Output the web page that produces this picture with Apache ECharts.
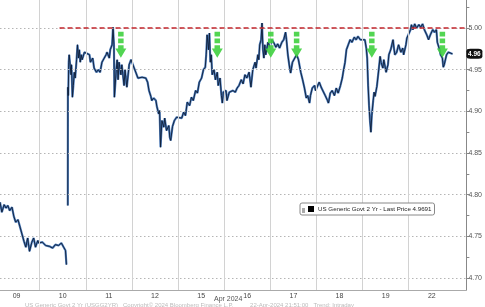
<!DOCTYPE html>
<html>
<head>
<meta charset="utf-8">
<script src="https://cdn.jsdelivr.net/npm/echarts@6/dist/echarts.min.js"></script>
<style>html,body{margin:0;padding:0;background:#fff}#c{width:485px;height:307px}</style>
</head>
<body>
<div id="c"></div>
<script>
// x positions are in trading-day units (day i spans [i, i+1]); null = break
const dayLabels = ['09','10','11','12','15','16','17','18','19','22'];
const yTickLabels = [4.70, 4.75, 4.80, 4.85, 4.90, 4.95, 5.00];
const yMinorTicks = [4.70,4.725,4.75,4.775,4.80,4.825,4.85,4.875,4.90,4.925,4.95,4.975,5.00,5.025];
const times = [
0.14,0.18,0.23,0.27,0.31,0.35,0.40,0.44,0.48,0.53,0.57,0.61,0.66,0.70,0.74,0.78,0.83,0.87,0.91,0.96,0.98,
1.06,1.13,1.17,1.21,1.28,1.34,1.41,1.47,1.52,1.56,1.58,1.60,
1.61,1.612,1.62,1.63,1.64,1.68,1.69,1.71,1.73,1.75,1.77,1.80,1.82,1.84,1.86,1.88,1.90,1.92,1.97,
2.08,2.10,2.15,2.18,2.23,2.27,2.31,2.35,2.40,2.44,2.46,2.51,2.53,2.57,2.59,2.61,2.62,2.66,2.68,2.70,2.72,2.76,2.78,2.83,2.85,2.89,2.94,2.98,
3.09,3.13,3.17,3.22,3.26,3.30,3.34,3.37,3.41,3.43,3.47,3.52,3.54,3.58,3.60,3.62,3.65,3.69,3.71,3.75,3.80,3.82,3.84,3.88,3.92,3.97,
4.08,4.12,4.16,4.20,4.25,4.29,4.33,4.38,4.42,4.46,4.51,4.55,4.59,4.61,4.63,4.66,4.68,4.70,4.72,4.74,4.78,4.81,4.85,4.87,4.91,4.94,4.96,4.98,
5.04,5.06,5.11,5.15,5.19,5.24,5.28,5.32,5.37,5.41,5.45,5.49,5.54,5.58,5.62,5.67,5.69,5.73,5.75,5.77,5.80,5.82,5.84,5.86,5.88,5.90,5.95,5.99,
6.03,6.08,6.12,6.16,6.20,6.25,6.29,6.33,6.35,6.38,6.42,6.44,6.48,6.53,6.57,6.61,6.66,6.70,6.74,6.78,6.81,6.85,6.87,6.91,6.96,6.98,
7.06,7.11,7.15,7.19,7.24,7.26,7.30,7.34,7.39,7.43,7.47,7.52,7.56,7.58,7.62,7.65,7.69,7.73,7.77,7.82,7.86,7.90,7.95,7.97,
8.05,8.08,8.10,8.12,8.14,8.16,8.18,8.20,8.23,8.25,8.27,8.31,8.35,8.38,8.40,8.44,8.46,8.51,8.55,8.57,8.61,8.66,8.68,8.70,8.74,8.78,8.83,8.87,8.89,8.94,8.96,
9.04,9.06,9.09,9.13,9.17,9.22,9.26,9.30,9.34,9.39,9.43,9.47,9.52,9.56,9.60,9.62,9.67,9.69,9.73,9.75,9.77,9.82,9.86,9.90,9.95
];
const yields = [
4.791,4.779,4.788,4.784,4.787,4.781,4.785,4.774,4.767,4.770,4.762,4.754,4.744,4.737,4.748,4.732,4.743,4.748,4.737,4.745,4.742,
4.743,4.739,4.737,4.738,4.736,4.740,4.739,4.742,4.737,4.733,4.716,null,
4.787,4.929,4.919,4.959,4.968,4.944,4.956,4.917,4.931,4.947,4.940,4.962,4.980,4.964,4.974,4.959,4.968,4.962,4.971,
4.968,4.959,4.964,4.952,4.947,4.950,4.947,4.959,4.964,4.968,4.971,4.964,4.974,4.980,5.001,4.980,4.917,4.950,4.962,4.938,4.959,4.944,4.956,4.931,4.950,4.929,4.956,4.962,
4.946,4.940,4.938,4.941,4.942,4.940,4.935,4.925,4.918,4.913,4.916,4.913,4.906,4.897,4.901,4.857,4.889,4.881,4.892,4.877,4.883,4.869,4.865,4.882,4.889,4.893,
4.892,4.899,4.895,4.911,4.907,4.917,4.913,4.925,4.922,4.935,4.940,4.950,4.953,4.968,4.992,4.974,4.994,4.959,4.968,4.944,4.950,4.938,4.947,4.931,4.940,4.919,4.910,4.923,
4.925,4.913,4.923,4.922,4.925,4.923,4.928,4.931,4.938,4.933,4.944,4.940,4.947,4.929,4.950,4.959,4.952,4.968,4.962,4.980,4.986,5.006,4.974,4.964,4.980,4.968,4.983,4.977,
4.986,4.982,4.977,4.981,4.976,4.983,4.986,4.995,4.986,4.968,4.952,4.946,4.959,4.964,4.968,4.962,4.947,4.938,4.928,4.916,4.919,4.910,4.919,4.928,4.931,4.925,
4.935,4.928,4.930,4.919,4.913,4.910,4.922,4.925,4.919,4.928,4.922,4.931,4.940,4.947,4.959,4.974,4.980,4.986,4.983,4.989,4.986,4.990,4.986,4.988,
4.986,4.976,4.964,4.931,4.907,4.889,4.875,4.895,4.913,4.923,4.918,4.930,4.950,4.966,4.959,4.952,4.962,4.947,4.956,4.968,4.974,4.986,4.976,4.968,4.971,4.980,4.971,4.976,4.968,4.980,4.988,
4.998,5.004,4.998,5.005,5.000,5.004,5.001,5.005,4.998,4.992,4.986,4.992,4.998,4.995,4.998,4.983,4.974,4.968,4.964,4.953,4.956,4.968,4.971,4.969,4.969
];
const lastPrice = 4.9691;
const lastPriceTag = '4.96';
const resistanceLevel = 5.00;
const resistanceStart = 1.43;
const arrowDays = [2.76, 4.85, 6.01, 6.57, 8.20, 9.73];
const arrowLevel = 4.980;
const seriesName = 'US Generic Govt 2 Yr - Last Price 4.9691';

const X_MIN = 0.14, X_MAX = 10.25, Y_MIN = 4.6856, Y_MAX = 5.0337;
const pts = times.map((t, i) => [t, yields[i] === null ? '-' : yields[i]]);
const dayBoundaries = dayLabels.slice(1).map((d, i) => i + 1);
const dayCenters = dayLabels.map((d, i) => i + 0.5);

const arrowPath = 'path://M2.5,0h5v4.5h-5z M2.5,6.5h5v4.5h-5z M2.5,13h5v4h-5z M0,16h10l-5,9z';

const chart = echarts.init(document.getElementById('c'), null, {renderer: 'canvas'});
chart.setOption({
  animation: false,
  backgroundColor: '#fff',
  textStyle: {fontFamily: 'Liberation Sans, Arial, sans-serif'},
  grid: {left: 0, right: 15, top: 0, bottom: 17, containLabel: false},
  legend: {
    data: [{name: seriesName, itemStyle: {color: '#000'}}],
    left: 300, top: 203, z: 20, zlevel: 1,
    icon: 'rect', itemWidth: 6, itemHeight: 6, itemGap: 2,
    padding: [3, 3, 3, 8],
    backgroundColor: '#fff', borderColor: '#888', borderWidth: 1, borderRadius: 2,
    textStyle: {fontSize: 6.2, color: '#222', padding: [0, 0, 0, -1]},
    selectedMode: false
  },
  xAxis: {
    type: 'value', min: X_MIN, max: X_MAX,
    axisLine: {show: true, lineStyle: {color: '#aaa', width: 1}},
    axisTick: {show: false},
    splitLine: {show: false},
    axisLabel: {
      customValues: dayCenters,
      formatter: v => dayLabels[Math.round(v - 0.5)],
      fontSize: 7, color: '#444', margin: 3
    }
  },
  yAxis: {
    type: 'value', position: 'right', min: Y_MIN, max: Y_MAX,
    axisLine: {show: true, lineStyle: {color: '#888', width: 1}},
    axisTick: {show: true, customValues: yMinorTicks, length: 3, lineStyle: {color: '#888'}},
    splitLine: {show: false},
    axisLabel: {
      customValues: yTickLabels,
      formatter: v => v.toFixed(2),
      fontSize: 7, color: '#555', margin: 2
    }
  },
  graphic: [
    {type: 'text', left: 214, top: 296, style: {text: 'Apr 2024', fontSize: 7, fill: '#555', fontFamily: 'Liberation Sans'}},
    {type: 'text', left: 25, top: 302, style: {text: 'US Generic Govt 2 Yr (USGG2YR)   Copyright\u00a9 2024 Bloomberg Finance L.P.          22-Apr-2024 21:51:00   Trend: Intraday', fontSize: 6, fill: '#bbb', fontFamily: 'Liberation Sans'}},
    {type: 'rect', left: 302, top: 208, zlevel: 2, shape: {width: 3, height: 5}, style: {fill: '#aaa'}}
  ],
  series: [
    {
      type: 'line', name: 'grid', data: [], z: 0, silent: true,
      markLine: {
        silent: true, symbol: 'none', animation: false, label: {show: false},
        data: [
          ...yTickLabels.map(v => ({yAxis: v, lineStyle: {color: '#b5b5b5', type: [1.5, 2.5], width: 1}})),
          ...dayBoundaries.map(v => ({xAxis: v, lineStyle: {color: '#d2d2d2', type: 'solid', width: 1}}))
        ]
      }
    },
    {
      type: 'line', name: 'under', data: pts, z: 2, silent: true,
      showSymbol: false, connectNulls: false,
      lineStyle: {color: '#4f7fbf', width: 2.2}, itemStyle: {color: '#4f7fbf'}
    },
    {
      type: 'line', name: seriesName, data: pts, z: 3,
      showSymbol: false, connectNulls: false,
      lineStyle: {color: '#0f1d36', width: 0.9}, itemStyle: {color: '#000'},
      markLine: {
        silent: true, symbol: 'none', animation: false, label: {show: false},
        data: [[
          {coord: [resistanceStart, resistanceLevel]},
          {coord: [X_MAX, resistanceLevel]}
        ]],
        lineStyle: {color: '#c3262c', type: [5, 3], width: 1.5}
      },
      markPoint: {
        silent: true, animation: false,
        data: [
          ...arrowDays.map(d => ({
            coord: [d, arrowLevel], symbol: arrowPath, symbolSize: [11, 26],
            itemStyle: {color: '#3fd03f', opacity: 0.9}, label: {show: false}
          })),
          {
            coord: [X_MAX, lastPrice], symbol: 'roundRect', symbolSize: [16, 10], symbolOffset: [8, 0],
            itemStyle: {color: '#111'},
            label: {show: true, position: 'inside', formatter: lastPriceTag, color: '#fff', fontSize: 6.5, fontWeight: 'bold'}
          }
        ]
      }
    }
  ]
});
</script>
</body>
</html>
